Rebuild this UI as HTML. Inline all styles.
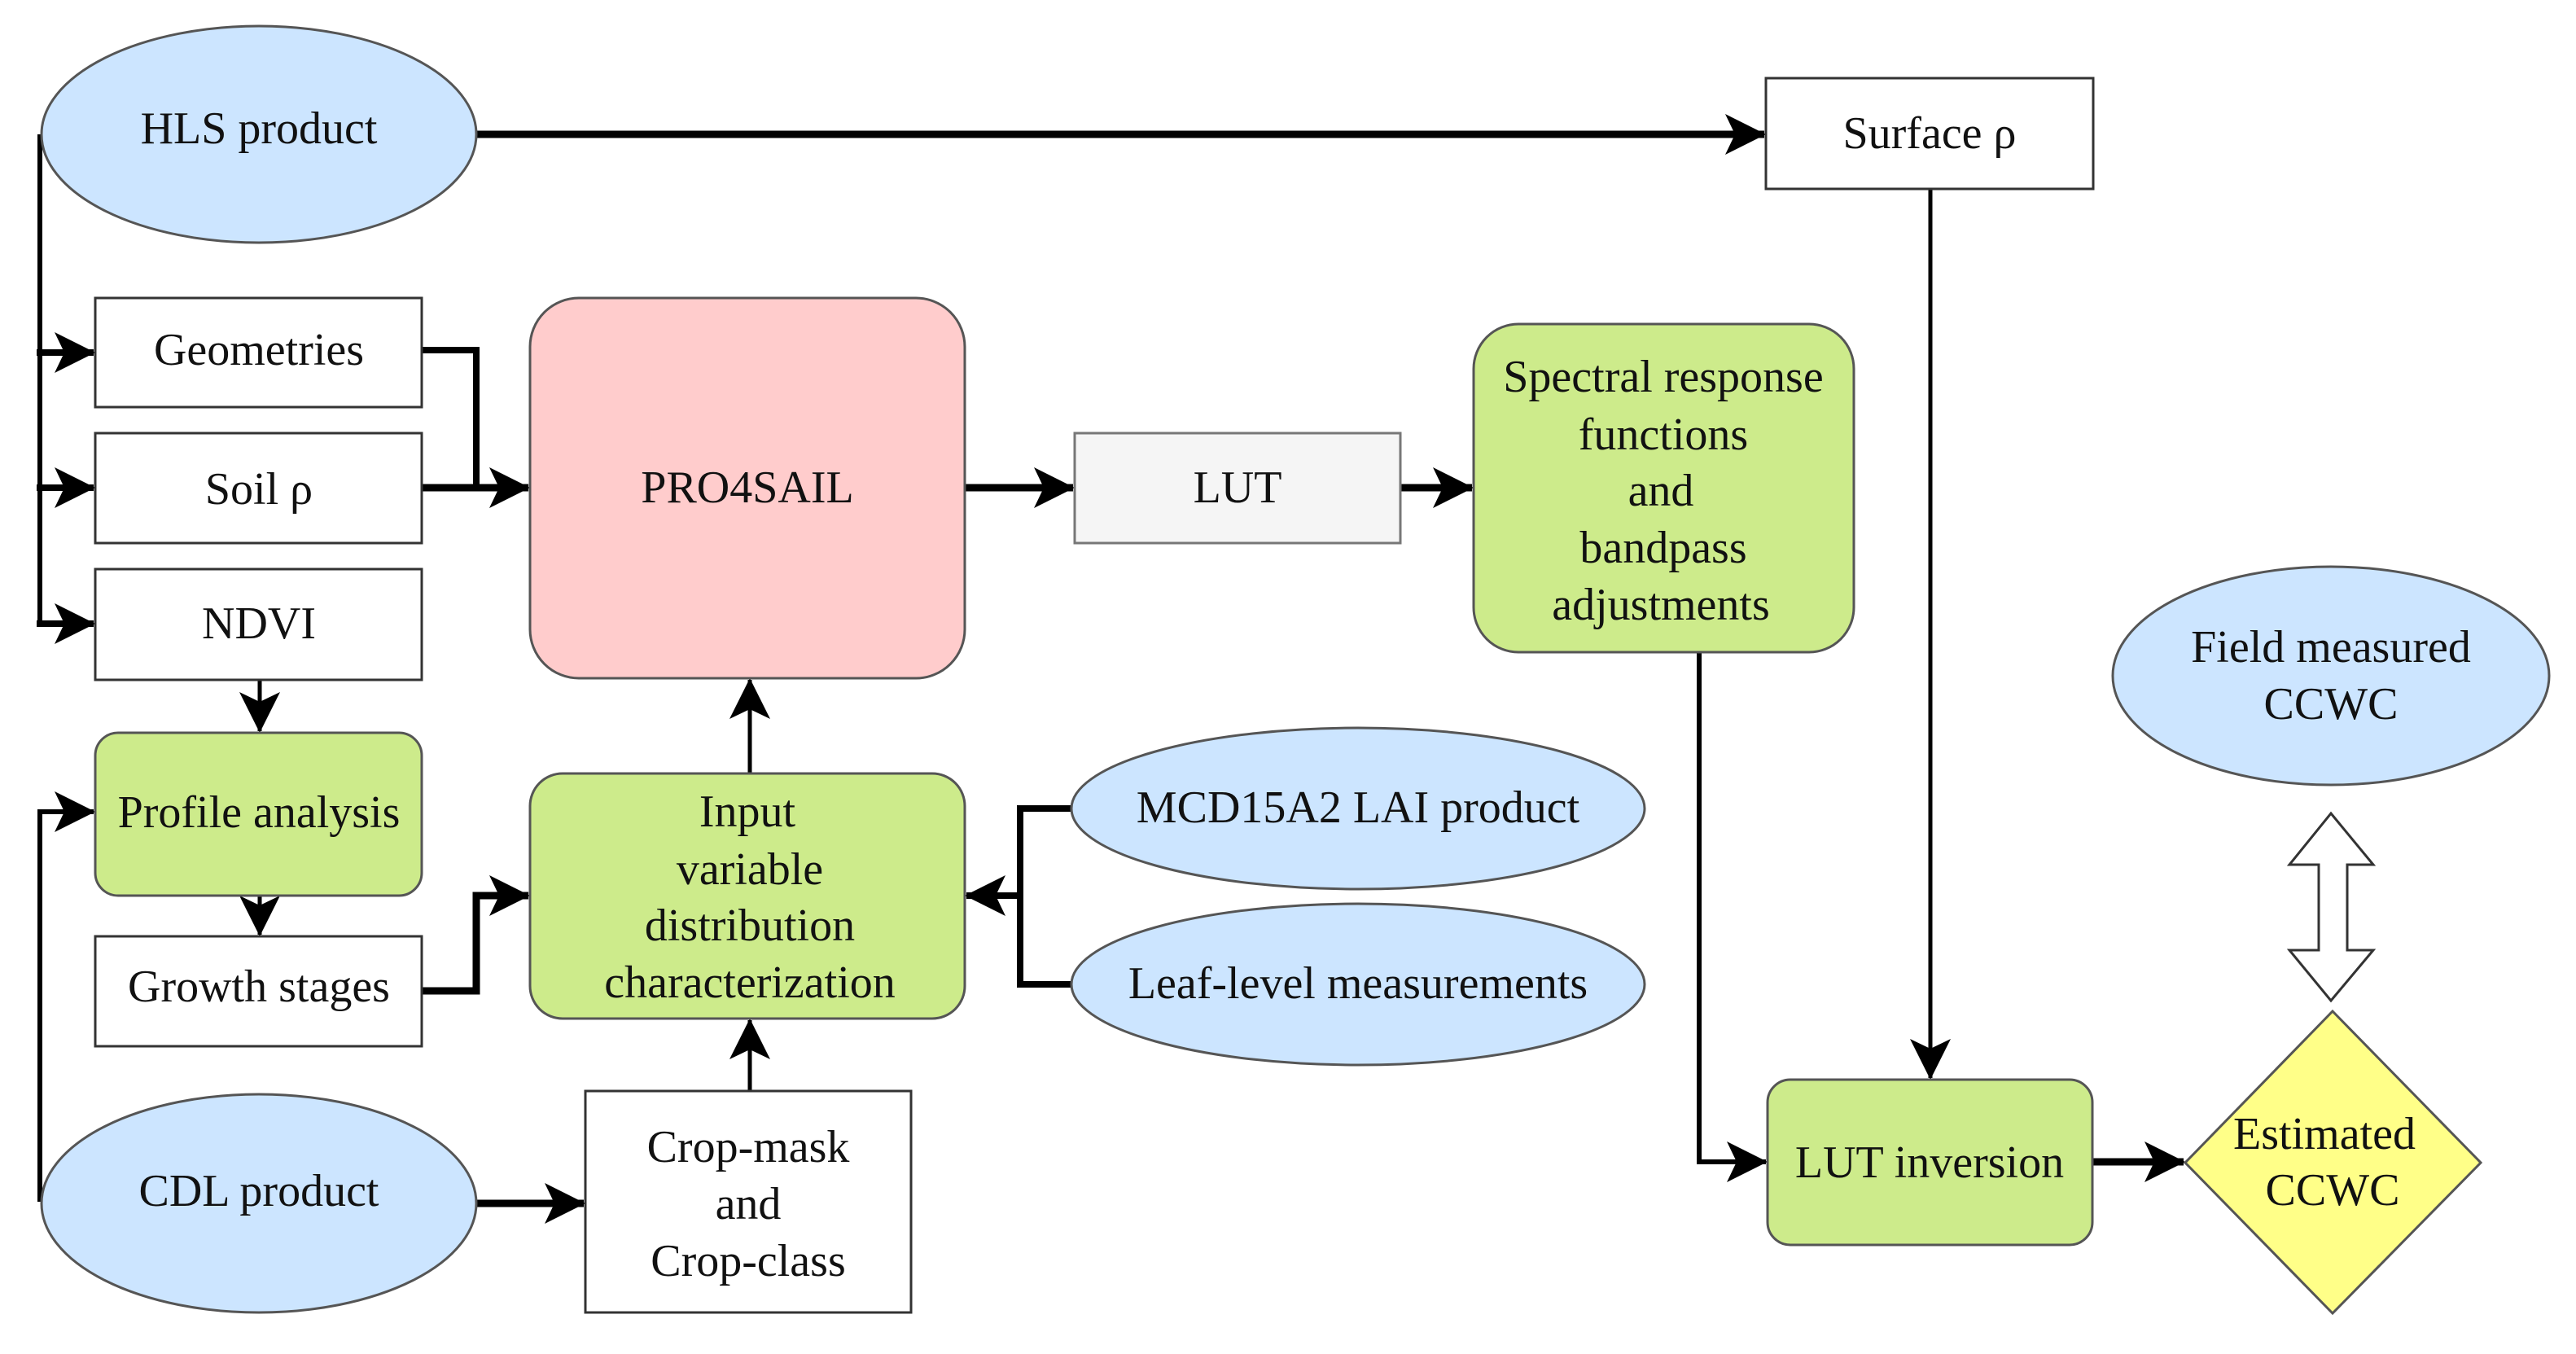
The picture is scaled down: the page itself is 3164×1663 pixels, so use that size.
<!DOCTYPE html>
<html><head><meta charset="utf-8"><style>
html,body{margin:0;padding:0;background:#fff}
svg{display:block}
text{font-family:"Liberation Serif","DejaVu Serif","Times New Roman",serif;font-size:56px;fill:#111;text-anchor:middle;dominant-baseline:central}
</style></head><body>
<svg width="3164" height="1663" viewBox="0 0 3164 1663" xmlns="http://www.w3.org/2000/svg">
<defs>
<marker id="a" viewBox="0 0 50 50" refX="48" refY="25" markerWidth="50" markerHeight="50" markerUnits="userSpaceOnUse" orient="auto">
<path d="M0,0 L50,25 L0,50 L12,25 Z" fill="#000"/>
</marker>
</defs>
<g fill="none" stroke="#000" stroke-linejoin="miter">
<path d="M585,165 H2167" stroke-width="9" marker-end="url(#a)"/>
<path d="M49,165 V766" stroke-width="6"/>
<path d="M45,433 H115" stroke-width="8" marker-end="url(#a)"/>
<path d="M45,599 H115" stroke-width="8" marker-end="url(#a)"/>
<path d="M45,766 H115" stroke-width="8" marker-end="url(#a)"/>
<path d="M518,430 H585 V599" stroke-width="8"/>
<path d="M518,599 H649" stroke-width="9" marker-end="url(#a)"/>
<path d="M1185,599 H1318" stroke-width="9" marker-end="url(#a)"/>
<path d="M1720,599 H1808" stroke-width="9" marker-end="url(#a)"/>
<path d="M2371,232 V1324" stroke-width="5" marker-end="url(#a)"/>
<path d="M2087,801 V1427 H2169" stroke-width="6" marker-end="url(#a)"/>
<path d="M2570,1427 H2682" stroke-width="9" marker-end="url(#a)"/>
<path d="M319,835 V898" stroke-width="5" marker-end="url(#a)"/>
<path d="M319,1100 V1148" stroke-width="5" marker-end="url(#a)"/>
<path d="M49,1476 V997 H115" stroke-width="6" marker-end="url(#a)"/>
<path d="M518,1217 H585 V1100 H649" stroke-width="9" marker-end="url(#a)"/>
<path d="M921,950 V835" stroke-width="5" marker-end="url(#a)"/>
<path d="M1319,993 H1253 V1209 H1319" stroke-width="8"/>
<path d="M1253,1100 H1187" stroke-width="8" marker-end="url(#a)"/>
<path d="M585,1478 H717" stroke-width="9" marker-end="url(#a)"/>
<path d="M921,1340 V1253" stroke-width="5" marker-end="url(#a)"/>
</g>
<g stroke="#555" stroke-width="3">
<ellipse cx="318" cy="165" rx="267" ry="133" fill="#cce5ff"/>
<rect x="2169" y="96" width="402" height="136" fill="#fff" stroke="#333"/>
<rect x="117" y="366" width="401" height="134" fill="#fff" stroke="#333"/>
<rect x="117" y="532" width="401" height="135" fill="#fff" stroke="#333"/>
<rect x="117" y="699" width="401" height="136" fill="#fff" stroke="#333"/>
<rect x="651" y="366" width="534" height="467" rx="60" ry="60" fill="#ffcccc"/>
<rect x="1320" y="532" width="400" height="135" fill="#f5f5f5" stroke="#777"/>
<rect x="1810" y="398" width="467" height="403" rx="55" ry="55" fill="#cdeb8b"/>
<ellipse cx="2863" cy="830" rx="268" ry="134" fill="#cce5ff"/>
<rect x="117" y="900" width="401" height="200" rx="28" ry="28" fill="#cdeb8b"/>
<rect x="117" y="1150" width="401" height="135" fill="#fff" stroke="#333"/>
<rect x="651" y="950" width="534" height="301" rx="40" ry="40" fill="#cdeb8b"/>
<ellipse cx="1668" cy="993" rx="352" ry="99" fill="#cce5ff"/>
<ellipse cx="1668" cy="1209" rx="352" ry="99" fill="#cce5ff"/>
<ellipse cx="318" cy="1478" rx="267" ry="134" fill="#cce5ff"/>
<rect x="719" y="1340" width="400" height="272" fill="#fff" stroke="#333"/>
<rect x="2171" y="1326" width="399" height="203" rx="28" ry="28" fill="#cdeb8b"/>
<polygon points="2865,1242 3047,1428 2865,1613 2684,1428" fill="#ffff88"/>
<polygon points="2863,999 2915,1062 2883,1062 2883,1167 2915,1167 2863,1229 2812,1167 2848,1167 2848,1062 2812,1062" fill="#fff" stroke="#333"/>
</g>
<g font-family="Liberation Serif, DejaVu Serif, serif" font-size="56">
<text x="318" y="158">HLS product</text>
<text x="2370" y="164">Surface ρ</text>
<text x="318" y="430">Geometries</text>
<text x="318" y="601">Soil ρ</text>
<text x="318" y="766">NDVI</text>
<text x="918" y="599">PRO4SAIL</text>
<text x="1520" y="599">LUT</text>
<text x="2043" y="463">Spectral response</text>
<text x="2043" y="534">functions</text>
<text x="2040" y="603">and</text>
<text x="2043" y="673">bandpass</text>
<text x="2040" y="743">adjustments</text>
<text x="2863" y="795">Field measured</text>
<text x="2863" y="865">CCWC</text>
<text x="318" y="998">Profile analysis</text>
<text x="318" y="1212">Growth stages</text>
<text x="918" y="997">Input</text>
<text x="921" y="1068">variable</text>
<text x="921" y="1137">distribution</text>
<text x="921" y="1207">characterization</text>
<text x="1668" y="992">MCD15A2 LAI product</text>
<text x="1668" y="1208">Leaf-level measurements</text>
<text x="318" y="1463">CDL product</text>
<text x="919" y="1409">Crop-mask</text>
<text x="919" y="1479">and</text>
<text x="919" y="1549">Crop-class</text>
<text x="2370" y="1428">LUT inversion</text>
<text x="2855" y="1393">Estimated</text>
<text x="2865" y="1462">CCWC</text>
</g>
</svg>
</body></html>
